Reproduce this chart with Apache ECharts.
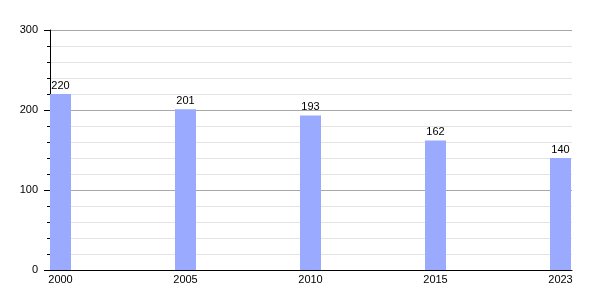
<!DOCTYPE html>
<html><head><meta charset="utf-8">
<script src="https://cdn.jsdelivr.net/npm/echarts@6/dist/echarts.min.js"></script>
<style>html,body{margin:0;padding:0;background:#fff}#c{width:600px;height:300px}</style>
</head><body><div id="c"></div>
<script>
const years = ['2000', '2005', '2010', '2015', '2023'];
const values = [220, 201, 193, 162, 140];
const yTicks = [0, 100, 200, 300];

const chart = echarts.init(document.getElementById('c'), null, {renderer: 'canvas'});
const font = 'Liberation Sans, Arial, sans-serif';
chart.setOption({
  animation: false,
  grid: {left: 50, right: 28, top: 30, bottom: 30, containLabel: false},
  xAxis: {
    type: 'value', min: -0.084, max: 4.092,
    axisLine: {show: true, onZero: false, lineStyle: {color: '#000', width: 1}},
    axisTick: {show: false},
    splitLine: {show: false},
    axisLabel: {
      customValues: years.map((_, i) => i),
      formatter: v => years[Math.round(v)],
      color: '#000', fontSize: 11, fontFamily: font, margin: 4
    }
  },
  yAxis: {
    type: 'value', min: yTicks[0], max: yTicks[yTicks.length - 1], interval: 100,
    position: 'left',
    axisLine: {show: true, onZero: false, lineStyle: {color: '#000', width: 1}},
    axisTick: {show: true, inside: false, length: 6, lineStyle: {color: '#000'}},
    minorTick: {show: true, splitNumber: 5, length: 3, lineStyle: {color: '#000'}},
    splitLine: {show: true, lineStyle: {color: '#a8a8a8', width: 1}},
    minorSplitLine: {show: true, lineStyle: {color: '#e4e4e4', width: 1}},
    axisLabel: {color: '#000', fontSize: 11, fontFamily: font, margin: 12}
  },
  series: [{
    type: 'bar',
    data: values.map((v, i) => [i, v]),
    barWidth: 21,
    itemStyle: {color: '#99aaff'},
    label: {show: true, position: 'top', distance: 3, color: '#000', fontSize: 11, fontFamily: font,
      formatter: p => p.value[1]}
  }]
});
</script></body></html>
